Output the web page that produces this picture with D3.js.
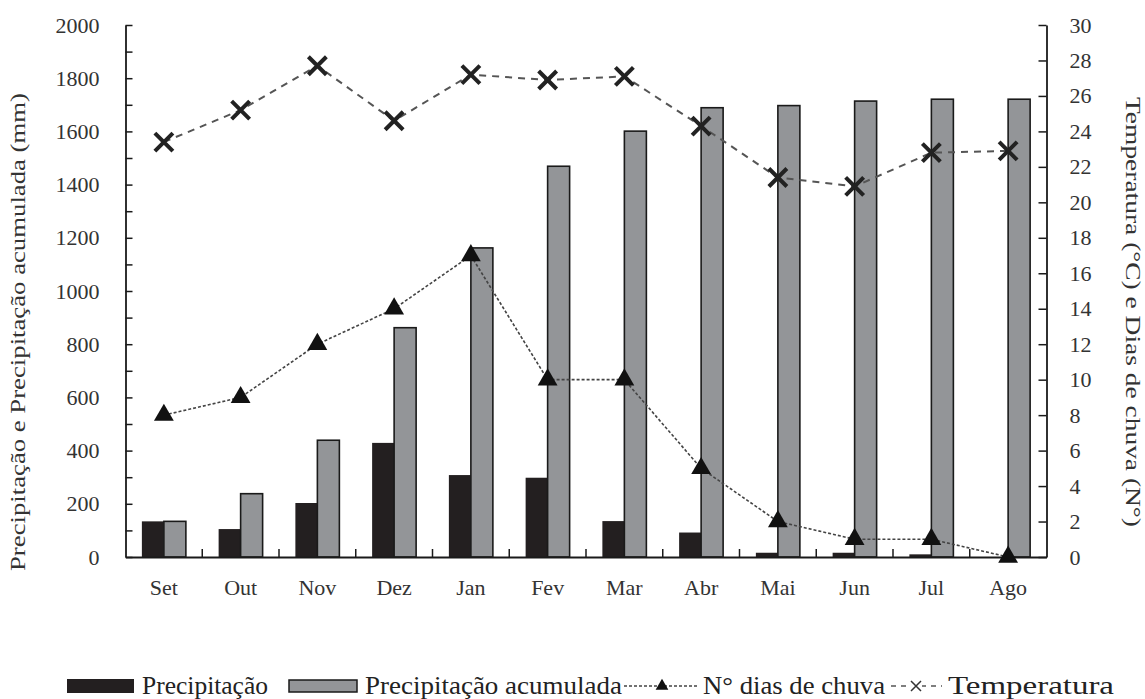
<!DOCTYPE html>
<html><head><meta charset="utf-8">
<script src="https://cdn.jsdelivr.net/npm/d3@7"></script>
<style>body{margin:0;background:#fff}svg{display:block}</style>
</head><body><svg id="c" width="1145" height="699"></svg>
<script>
const months = ["Set","Out","Nov","Dez","Jan","Fev","Mar","Abr","Mai","Jun","Jul","Ago"];
const precipitacao = [134,105,203,429,308,298,135,92,16,16,10,0];
const precipAcumulada = [134,238,439,862,1162,1469,1601,1689,1697,1714,1721,1721];
const diasChuva = [8,9,12,14,17,10,10,5,2,1,1,0];
const temperatura = [23.4,25.2,27.7,24.6,27.2,26.9,27.1,24.3,21.4,20.9,22.8,22.9];
const leftTicks = [0,200,400,600,800,1000,1200,1400,1600,1800,2000];
const rightTicks = [0,2,4,6,8,10,12,14,16,18,20,22,24,26,28,30];
const legendLabels = ["Precipitação","Precipitação acumulada","N° dias de chuva","Temperatura"];

const FONT = "'Liberation Serif', 'Times New Roman', serif";
const svg = d3.select("#c");
const L=125.5, R=1046.5, T=25, B=557;
const x = d3.scaleBand().domain(months).range([L,R]);
const y = d3.scaleLinear().domain([0,2000]).range([B,T]);
const y2 = d3.scaleLinear().domain([0,30]).range([B,T]);
const bw = 22;
const cx = m => x(m)+x.bandwidth()/2;

// bars
svg.append("g").selectAll("rect").data(months).join("rect")
  .attr("x",m=>cx(m)-bw).attr("width",bw)
  .attr("y",(m,i)=>y(precipitacao[i])).attr("height",(m,i)=>B-y(precipitacao[i]))
  .attr("fill","#231f20");
svg.append("g").selectAll("rect").data(months).join("rect")
  .attr("x",m=>cx(m)).attr("width",bw)
  .attr("y",(m,i)=>y(precipAcumulada[i])).attr("height",(m,i)=>B-y(precipAcumulada[i]))
  .attr("fill","#939598").attr("stroke","#1a1a1a").attr("stroke-width",1.6);

// axes
const gl = svg.append("g").attr("transform",`translate(${L},0)`)
  .call(d3.axisLeft(y).tickValues(d3.range(0,2001,100)).tickSizeInner(-7).tickSizeOuter(0).tickFormat(d=>leftTicks.includes(d)?d:""));
gl.attr("font-family",FONT);
gl.select(".domain").attr("stroke","#1a1a1a").attr("stroke-width",1.8);
gl.selectAll(".tick line").attr("stroke","#1a1a1a").attr("stroke-width",1.5);
gl.selectAll(".tick text").attr("x",-26).style("font-size","22px").style("font-family",FONT).attr("fill","#333");

const gr = svg.append("g").attr("transform",`translate(${R},0)`)
  .call(d3.axisRight(y2).tickValues(rightTicks).tickSizeInner(-8).tickSizeOuter(0));
gr.attr("font-family",FONT);
gr.select(".domain").attr("stroke","#1a1a1a").attr("stroke-width",1.8);
gr.selectAll(".tick line").attr("stroke","#1a1a1a").attr("stroke-width",1.5);
gr.selectAll(".tick text").attr("x",23).style("font-size","22px").style("font-family",FONT).attr("fill","#333");

const gx = svg.append("g").attr("transform",`translate(0,${B})`)
  .call(d3.axisBottom(x).tickSize(0));
gx.attr("font-family",FONT);
gx.select(".domain").attr("stroke","#1a1a1a").attr("stroke-width",1.8);
gx.selectAll(".tick text").attr("y",22).attr("dy","0.71em").style("font-size","22px").style("font-family",FONT).attr("fill","#333");
// band separator ticks
svg.append("g").selectAll("line").data(months.slice(1)).join("line")
  .attr("x1",m=>x(m)).attr("x2",m=>x(m)).attr("y1",B).attr("y2",B-8)
  .attr("stroke","#1a1a1a").attr("stroke-width",1.5);

// lines
const lineD = d3.line().x((d,i)=>cx(months[i])).y(d=>y2(d));
svg.append("path").datum(diasChuva).attr("d",lineD).attr("fill","none")
  .attr("stroke","#444").attr("stroke-width",1.6).attr("stroke-dasharray","3,2");
svg.append("path").datum(temperatura).attr("d",lineD).attr("fill","none")
  .attr("stroke","#555").attr("stroke-width",2).attr("stroke-dasharray","7,6");

const tri = d3.symbol(d3.symbolTriangle,170);
svg.append("g").selectAll("path").data(diasChuva).join("path")
  .attr("d",tri).attr("transform",(d,i)=>`translate(${cx(months[i])},${y2(d)})`).attr("fill","#111");
svg.append("g").selectAll("path").data(temperatura).join("path")
  .attr("d","M-9,-9L9,9M-9,9L9,-9").attr("transform",(d,i)=>`translate(${cx(months[i])},${y2(d)})`)
  .attr("stroke","#222").attr("stroke-width",4).attr("fill","none");

// axis titles
svg.append("text").attr("transform","translate(25,332) rotate(-90)").attr("text-anchor","middle")
  .style("font-family",FONT).style("font-size","21px").attr("textLength",478).attr("lengthAdjust","spacingAndGlyphs").attr("fill","#333")
  .text("Precipitação e Precipitação acumulada (mm)");
svg.append("text").attr("transform","translate(1126,312) rotate(90)").attr("text-anchor","middle")
  .style("font-family",FONT).style("font-size","21px").attr("textLength",430).attr("lengthAdjust","spacingAndGlyphs").attr("fill","#333")
  .text("Temperatura (°C) e Dias de chuva (N°)");

// legend
const lg = svg.append("g");
const ly = 686;
lg.append("rect").attr("x",67).attr("y",ly-7).attr("width",67).attr("height",14).attr("fill","#231f20");
lg.append("rect").attr("x",289).attr("y",ly-6).attr("width",68).attr("height",12).attr("fill","#939598").attr("stroke","#1a1a1a").attr("stroke-width",1.5);
lg.append("line").attr("x1",624).attr("x2",699).attr("y1",ly).attr("y2",ly).attr("stroke","#444").attr("stroke-width",1.6).attr("stroke-dasharray","3,2");
lg.append("path").attr("d",d3.symbol(d3.symbolTriangle,70)).attr("transform",`translate(662,${ly})`).attr("fill","#111");
lg.append("line").attr("x1",891).attr("x2",942).attr("y1",ly).attr("y2",ly).attr("stroke","#555").attr("stroke-width",1.6).attr("stroke-dasharray","5,5");
lg.append("rect").attr("x",910).attr("y",ly-6).attr("width",12).attr("height",12).attr("fill","#fff");
lg.append("path").attr("d","M-5,-5L5,5M-5,5L5,-5").attr("transform",`translate(916,${ly})`).attr("stroke","#333").attr("stroke-width",1.5);
const lt = [[142,126],[365,257],[703,182],[948,166]];
lg.selectAll("text").data(legendLabels).join("text")
  .attr("x",(d,i)=>lt[i][0]).attr("y",ly+8).attr("textLength",(d,i)=>lt[i][1]).attr("lengthAdjust","spacingAndGlyphs")
  .style("font-family",FONT).style("font-size","25px").attr("fill","#222").text(d=>d);
</script></body></html>
